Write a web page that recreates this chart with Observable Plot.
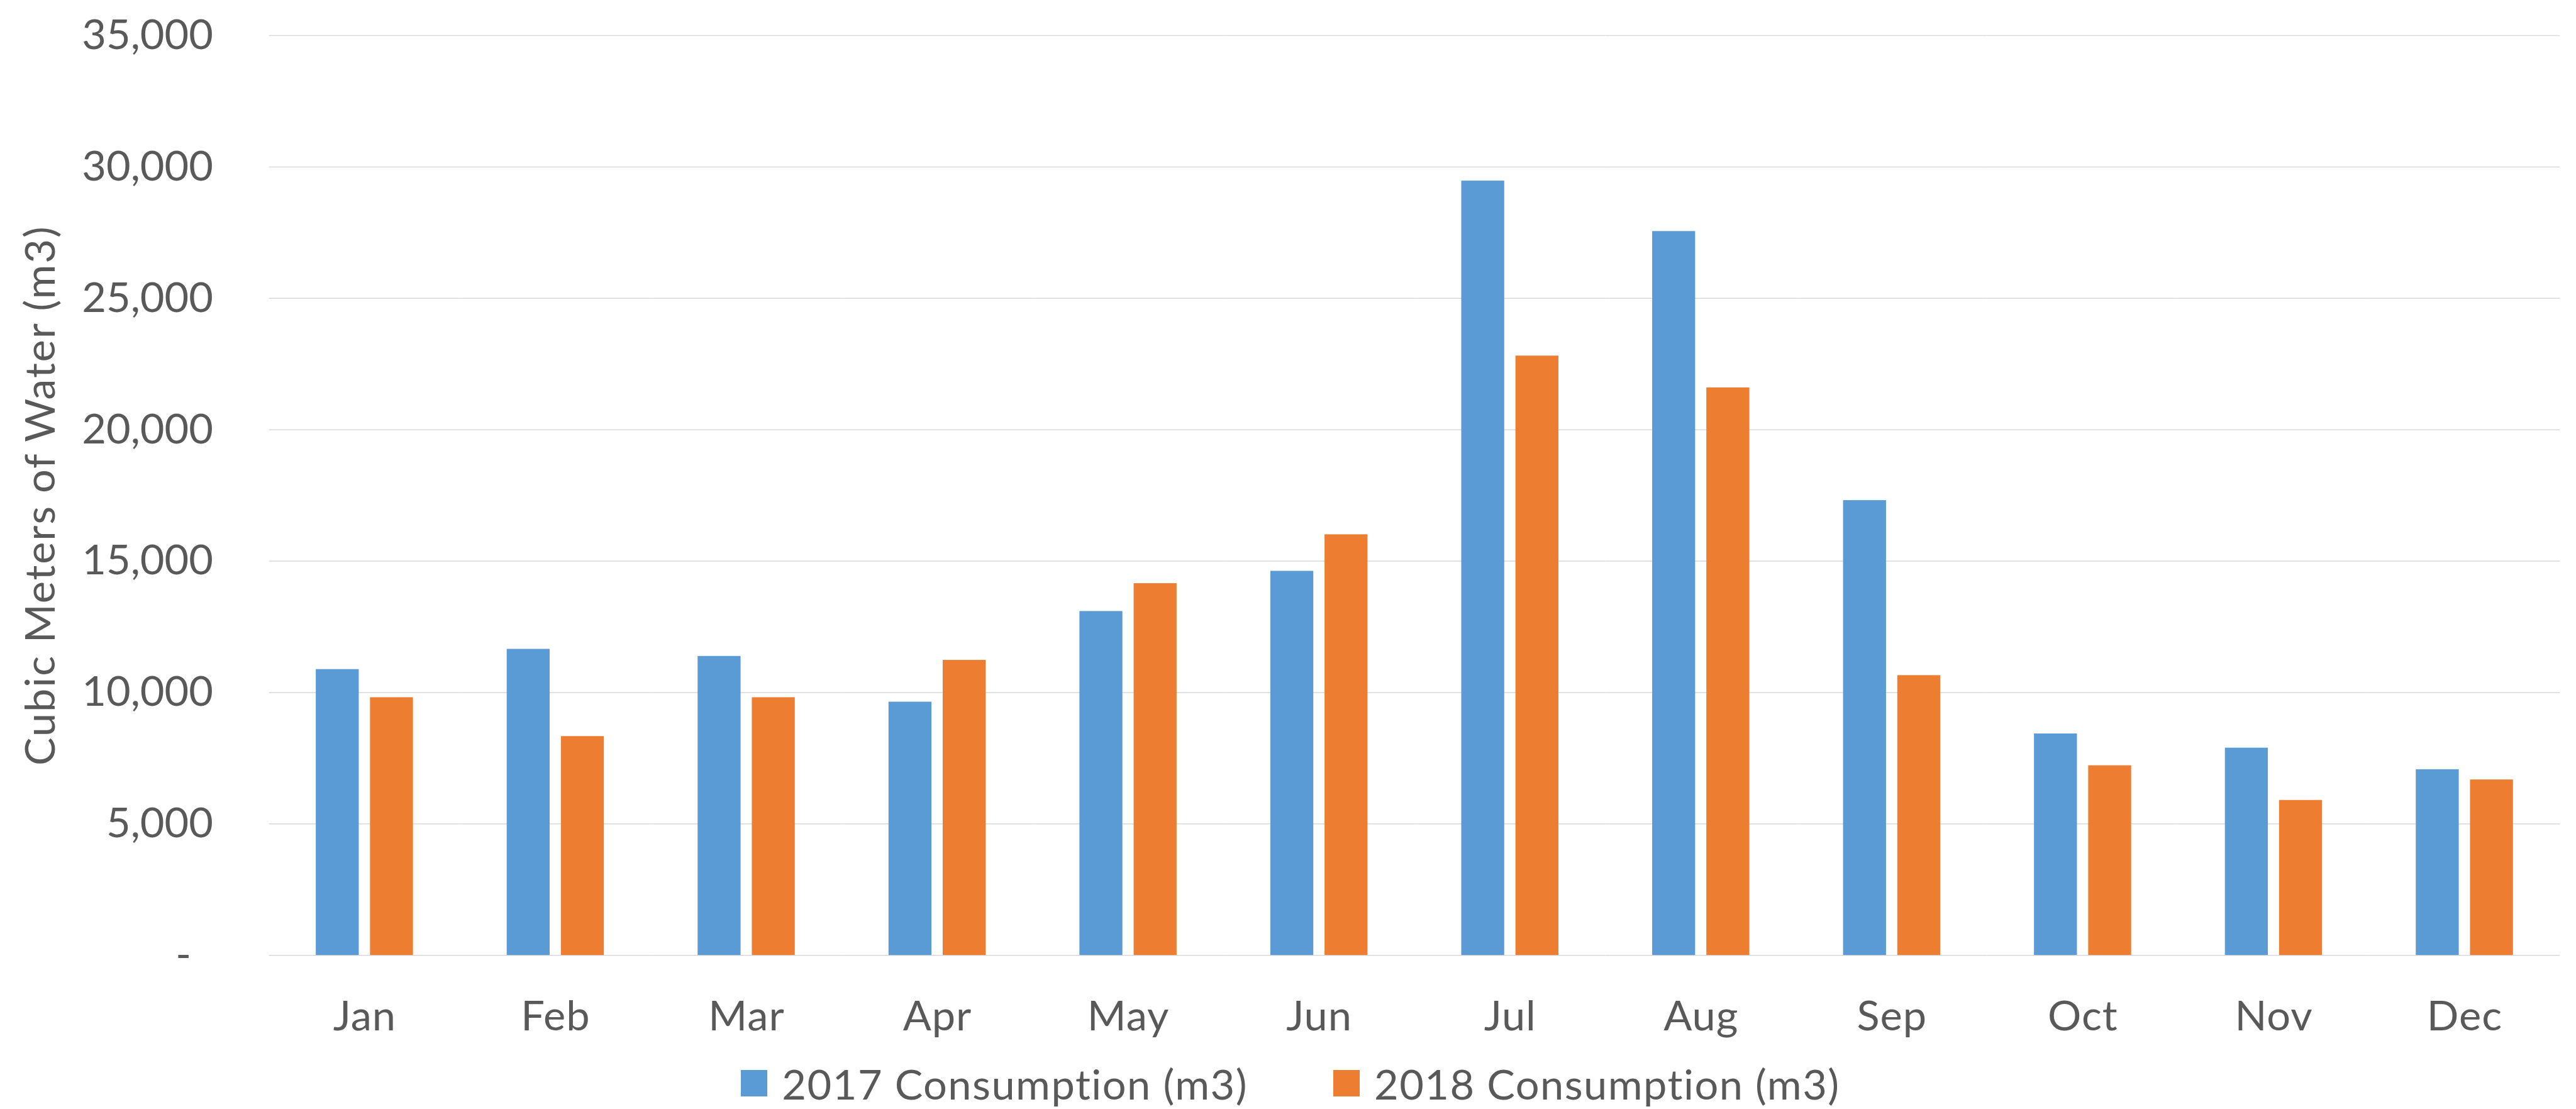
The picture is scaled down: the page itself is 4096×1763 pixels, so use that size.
<!DOCTYPE html>
<html>
<head>
<meta charset="utf-8">
<script src="https://cdn.jsdelivr.net/npm/d3@7"></script>
<script src="https://cdn.jsdelivr.net/npm/@observablehq/plot@0.6"></script>
<style>
  html, body { margin: 0; padding: 0; background: #ffffff; }
  #chart { width: 4096px; }
  #chart g[aria-label="y-axis label"] text { letter-spacing: 1.9px; }
  #chart g[aria-label="fx-axis tick label"] text { letter-spacing: 1px; }
  #legend {
    width: 4096px; height: 83px; display: flex; justify-content: center; align-items: center;
    font-family: Lato, "Open Sans", sans-serif; font-size: 66.7px; color: #595959; padding-left: 8px; box-sizing: border-box;
    letter-spacing: 1.5px;
  }
  .item { display: flex; align-items: center; }
  .item + .item { margin-left: 136px; }
  .sw { width: 42px; height: 42px; margin-right: 23px; }
</style>
</head>
<body>
<div id="chart"></div>
<div id="legend"></div>
<script>
const months = ["Jan", "Feb", "Mar", "Apr", "May", "Jun", "Jul", "Aug", "Sep", "Oct", "Nov", "Dec"];
const seriesNames = ["2017 Consumption (m3)", "2018 Consumption (m3)"];
const consumption2017 = [10880, 11650, 11380, 9640, 13090, 14620, 29470, 27550, 17310, 8430, 7890, 7070];
const consumption2018 = [9810, 8330, 9810, 11230, 14150, 16010, 22810, 21600, 10650, 7220, 5900, 6680];
const yTicks = [0, 5000, 10000, 15000, 20000, 25000, 30000, 35000];
const seriesColors = ["#5B9BD5", "#ED7D31"];

const rows = [];
months.forEach((m, i) => {
  rows.push({month: m, series: seriesNames[0], value: consumption2017[i]});
  rows.push({month: m, series: seriesNames[1], value: consumption2018[i]});
});

const chart = Plot.plot({
  width: 4096,
  height: 1680,
  marginLeft: 427.6,
  marginRight: 25.7,
  marginTop: 56.1,
  marginBottom: 161.8,
  style: {fontFamily: "Lato, 'Open Sans', sans-serif", fontSize: "66.7px", color: "#595959", background: "#ffffff"},
  fx: {domain: months, padding: 0, round: false, axis: null, label: null},
  x: {domain: seriesNames, paddingInner: 0.2077, paddingOuter: 0.8647, round: false, axis: null, label: null},
  y: {domain: [0, 35000], axis: null, label: null},
  color: {domain: seriesNames, range: seriesColors},
  marks: [
    Plot.gridY(yTicks, {stroke: "#D9D9D9", strokeOpacity: 1, strokeWidth: 1.5}),
    Plot.barY(rows, {fx: "month", x: "series", y: "value", fill: "series"}),
    Plot.axisFx({anchor: "bottom", tickSize: 0, tickPadding: 72, label: null}),
    Plot.axisY(yTicks.slice(1), {
      anchor: "left", tickFormat: d3.format(","), tickSize: 0, tickPadding: 89.2,
      label: "Cubic Meters of Water (m3)", labelAnchor: "center", labelOffset: 388.9, labelArrow: "none"
    }),
    Plot.axisY([0], {anchor: "left", tickFormat: () => "-", tickSize: 0, tickPadding: 124, label: null})
  ]
});
document.getElementById("chart").appendChild(chart);

const legend = document.getElementById("legend");
seriesNames.forEach((name, i) => {
  const item = document.createElement("div");
  item.className = "item";
  const sw = document.createElement("div");
  sw.className = "sw";
  sw.style.background = seriesColors[i];
  const label = document.createElement("span");
  label.textContent = name;
  item.appendChild(sw);
  item.appendChild(label);
  legend.appendChild(item);
});
</script>
</body>
</html>
